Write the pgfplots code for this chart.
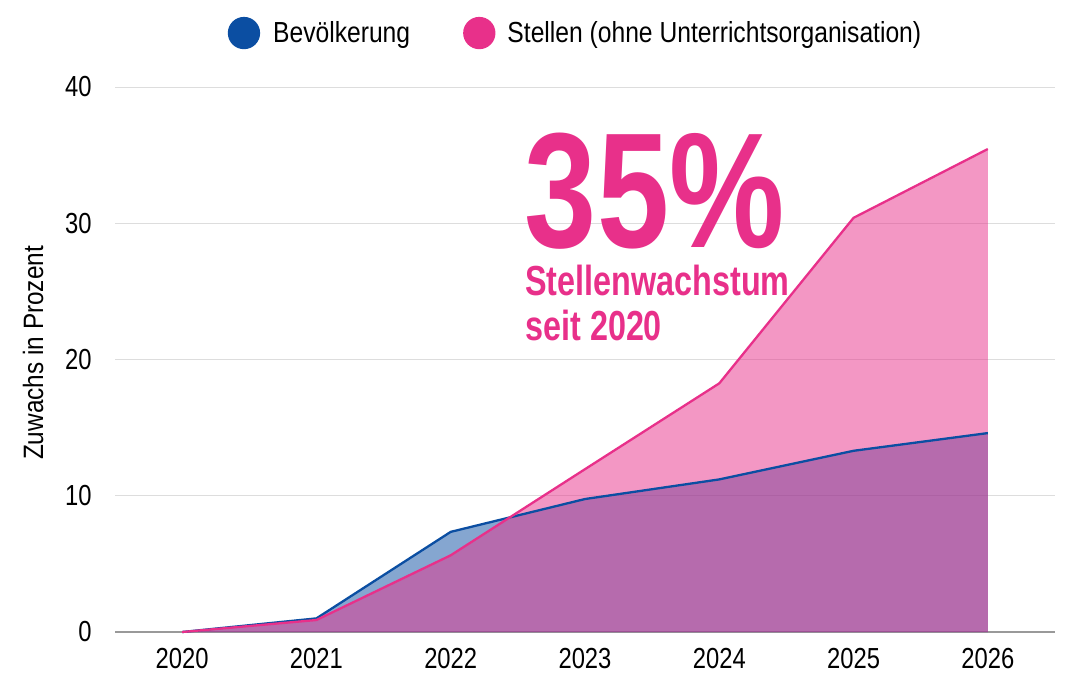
\documentclass[border=0pt]{standalone}
\usepackage{fontspec}
\setmainfont{Liberation Sans}[FakeStretch=0.82]
\newfontfamily\legfont{Liberation Sans}[FakeStretch=0.85]
\newfontfamily\labfont{Liberation Sans}[FakeStretch=0.87]
\newfontfamily\bigfont{Liberation Sans Bold}[FakeStretch=0.79]
\newfontfamily\subfont{Liberation Sans Bold}[FakeStretch=0.77]
\usepackage{pgfplots}
\pgfplotsset{compat=1.18}
\definecolor{cblue}{HTML}{0B4EA2}
\definecolor{cpink}{HTML}{E8308A}
\definecolor{cgrid}{HTML}{DDDDDD}
\begin{document}
\begin{tikzpicture}
\path[use as bounding box] (0,0) rectangle (540pt,346pt);
\begin{axis}[
  at={(57.5pt,30pt)}, anchor=south west,
  width=470pt, height=272.5pt, scale only axis,
  xmin=2019.5, xmax=2026.5, ymin=0, ymax=40,
  xtick={2020,2021,2022,2023,2024,2025,2026},
  ytick={0,10,20,30,40},
  /pgf/number format/assume math mode=true,
  /pgf/number format/1000 sep={},
  major tick length=0pt,
  axis x line=bottom,
  axis y line=left,
  x axis line style={-, draw=black!40, line width=0.6pt},
  y axis line style={draw=none},
  ymajorgrids, grid style={cgrid, line width=0.5pt},
  ticklabel style={font=\fontsize{14.5}{17}\selectfont},
  yticklabel style={anchor=east, inner sep=0pt, xshift=-11.5pt},
  xticklabel style={anchor=north, inner sep=0pt, yshift=-8pt},
  ylabel={Zuwachs in Prozent},
  every axis y label/.style={at={(axis description cs:-0.087,0.512)}, rotate=90, anchor=center,
    font=\labfont\fontsize{14}{16}\selectfont},
  legend columns=2,
  legend style={at={(0.491,1.099)}, anchor=center, draw=none, fill=none,
    font=\legfont\fontsize{14.5}{17}\selectfont, inner sep=0pt,
    /tikz/every even column/.append style={column sep=24.5pt}},
  legend cell align=left,
  clip=false,
]
\addplot[draw=none, fill=cblue, fill opacity=0.5, forget plot] coordinates {
 (2020,0) (2021,1.0) (2022,7.35) (2023,9.76) (2024,11.2) (2025,13.3) (2026,14.6)} \closedcycle;
\addplot[draw=none, fill=cpink, fill opacity=0.5, forget plot] coordinates {
 (2020,0) (2021,0.88) (2022,5.63) (2023,11.95) (2024,18.25) (2025,30.4) (2026,35.45)} \closedcycle;
\addplot[cblue, line width=1.15pt,
  legend image code/.code={\fill[cblue] (0pt,0pt) circle (7.5pt); \path (12pt,0pt);}] coordinates {
 (2020,0) (2021,1.0) (2022,7.35) (2023,9.76) (2024,11.2) (2025,13.3) (2026,14.6)};
\addplot[cpink, line width=1.15pt,
  legend image code/.code={\fill[cpink] (0pt,0pt) circle (7.5pt); \path (11.5pt,0pt);}] coordinates {
 (2020,0) (2021,0.88) (2022,5.63) (2023,11.95) (2024,18.25) (2025,30.4) (2026,35.45)};
\legend{Bevölkerung, Stellen (ohne Unterrichtsorganisation)}
\node[anchor=base west, inner sep=0pt, text=cpink, font=\bigfont\fontsize{82}{82}\selectfont] at (axis cs:2022.55,28.2) {35\%};
\node[anchor=base west, inner sep=0pt, text=cpink, font=\subfont\fontsize{21}{22.5}\selectfont, align=left] at (axis cs:2022.553,21.43) {Stellenwachstum\\seit 2020};
\end{axis}
\end{tikzpicture}
\end{document}
